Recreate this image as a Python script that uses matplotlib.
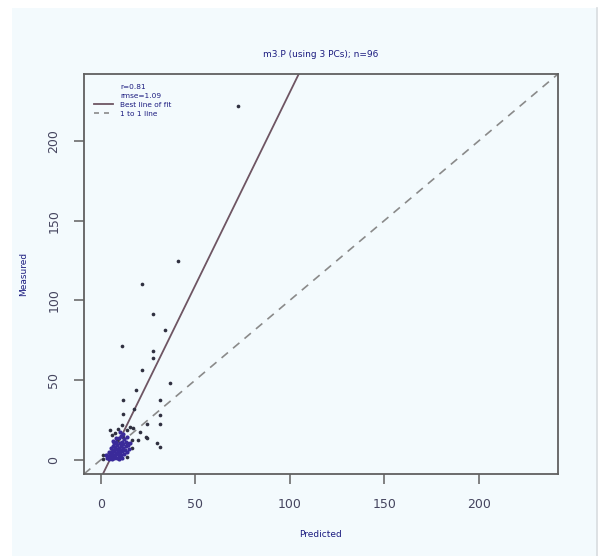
import matplotlib
matplotlib.use("Agg")
import matplotlib.pyplot as plt
from matplotlib.patches import Rectangle
from matplotlib.lines import Line2D

# ---- data ----
outlier_pred = [72.8, 41.0, 21.8, 27.5, 34.2, 11.3, 27.5, 27.5, 21.7, 36.6,
                18.7, 12.0, 31.4, 17.6, 11.6, 31.4, 24.3, 31.4, 24.0, 19.9,
                29.6, 31.4, 13.7, 1.0, 1.4, 4.9, 7.6, 13.7, 15.5, 17.0,
                20.8, 12.0, 16.4, 24.3, 8.5, 13.7, 16.4, 11.1, 6.0, 9.0]
outlier_meas = [221.8, 124.5, 110.5, 91.4, 81.8, 71.3, 68.1, 63.7, 56.6, 48.2,
                43.6, 37.3, 37.7, 31.9, 28.7, 28.3, 22.6, 22.6, 14.3, 12.6,
                10.9, 8.4, 2.1, 0.3, 3.1, 18.9, 16.8, 18.9, 20.9, 20.0,
                17.8, 14.7, 12.6, 13.6, 12.6, 10.5, 7.4, 22.0, 15.5, 19.5]
cluster_pred = [3.5, 4.0, 4.5, 5.0, 5.2, 5.5, 5.8, 6.0, 6.2, 6.5,
                6.8, 7.0, 7.2, 7.5, 7.8, 8.0, 8.2, 8.5, 8.8, 9.0,
                9.2, 9.5, 9.8, 10.0, 10.2, 10.5, 10.8, 11.0, 11.3, 11.5,
                11.8, 12.0, 12.3, 12.6, 13.0, 13.3, 13.6, 14.0, 14.5, 15.0,
                6.3, 5.3, 4.2, 8.3, 9.6, 7.0, 10.8, 12.0, 9.5, 11.5,
                3.0, 6.6, 8.0, 14.2, 10.0, 15.5]
cluster_meas = [1.0, 2.5, 0.5, 3.5, 1.8, 5.0, 2.2, 0.8, 4.2, 6.5,
                3.0, 1.5, 5.5, 8.0, 2.8, 4.5, 6.8, 1.2, 9.5, 3.8,
                5.8, 7.5, 2.0, 10.5, 4.8, 6.2, 8.8, 3.2, 11.5, 5.5,
                7.2, 9.8, 4.0, 13.0, 6.5, 8.5, 11.2, 5.2, 9.2, 7.0,
                9.0, 7.2, 5.0, 11.2, 13.5, 10.5, 15.0, 16.5, 0.5, 1.5,
                3.0, 12.0, 14.0, 14.5, 17.5, 10.5]
fit_intercept = -11.7
fit_slope = 2.42
axis_limits = [-8.8, 242.0]
ticks = [0, 50, 100, 150, 200]
title = "m3.P (using 3 PCs); n=96"
legend_labels = ["r=0.81", "rmse=1.09", "Best line of fit", "1 to 1 line"]

W, H = 603, 556
fig = plt.figure(figsize=(W / 100, H / 100), dpi=100)
fig.patch.set_facecolor("white")
bg = "#f3fafd"
fig.patches.append(Rectangle((12 / W, 0), (597 - 12) / W, (H - 8) / H,
                             transform=fig.transFigure, facecolor=bg,
                             edgecolor="none", zorder=-10))
fig.lines.append(Line2D([597 / W, 597 / W], [0, (H - 8) / H],
                        transform=fig.transFigure, color="#d8dcdf", lw=1.2))

ax = fig.add_axes([84 / W, 1 - 474 / H, (558 - 84) / W, (474 - 74) / H])
ax.set_facecolor(bg)
ax.set_xlim(axis_limits)
ax.set_ylim(axis_limits)

ax.scatter(outlier_pred, outlier_meas, s=7, color="#2f3040", zorder=3, linewidths=0)
ax.scatter(cluster_pred, cluster_meas, s=9, color="#3a2a9a", zorder=3, linewidths=0)

xs = axis_limits
ax.plot(xs, [fit_intercept + fit_slope * x for x in xs], color="#6e5563", lw=1.3)
ax.plot(xs, xs, color="#8a8a8a", lw=1.2, ls=(0, (5, 4)))

for s in ax.spines.values():
    s.set_color("#606060")
    s.set_linewidth(1.3)
ax.set_xticks(ticks)
ax.set_yticks(ticks)
ax.tick_params(colors="#606060", labelcolor="#45455f", length=7, width=1.1,
               labelsize=9, pad=10)
for lab in ax.get_yticklabels():
    lab.set_rotation(90)
    lab.set_va("center")

ax.set_title(title, fontsize=6.5, color="#1c1c80", pad=12)
ax.set_xlabel("Predicted", fontsize=6.5, color="#1c1c80", labelpad=14)
ax.set_ylabel("Measured", fontsize=6.5, color="#1c1c80", labelpad=14)

leg_handles = [Line2D([], [], color="none"), Line2D([], [], color="none"),
               Line2D([], [], color="#6e5563", lw=1.3),
               Line2D([], [], color="#8a8a8a", lw=1.2, ls=(0, (3, 3)))]
leg = ax.legend(leg_handles, legend_labels, loc="upper left", frameon=False,
                fontsize=5.3, labelcolor="#1c1c80", handlelength=2.6,
                handletextpad=1.0, labelspacing=0.4, borderaxespad=0.9,
                bbox_to_anchor=(0.0, 1.0))

fig.savefig("out.png", dpi=100, facecolor=fig.get_facecolor())
